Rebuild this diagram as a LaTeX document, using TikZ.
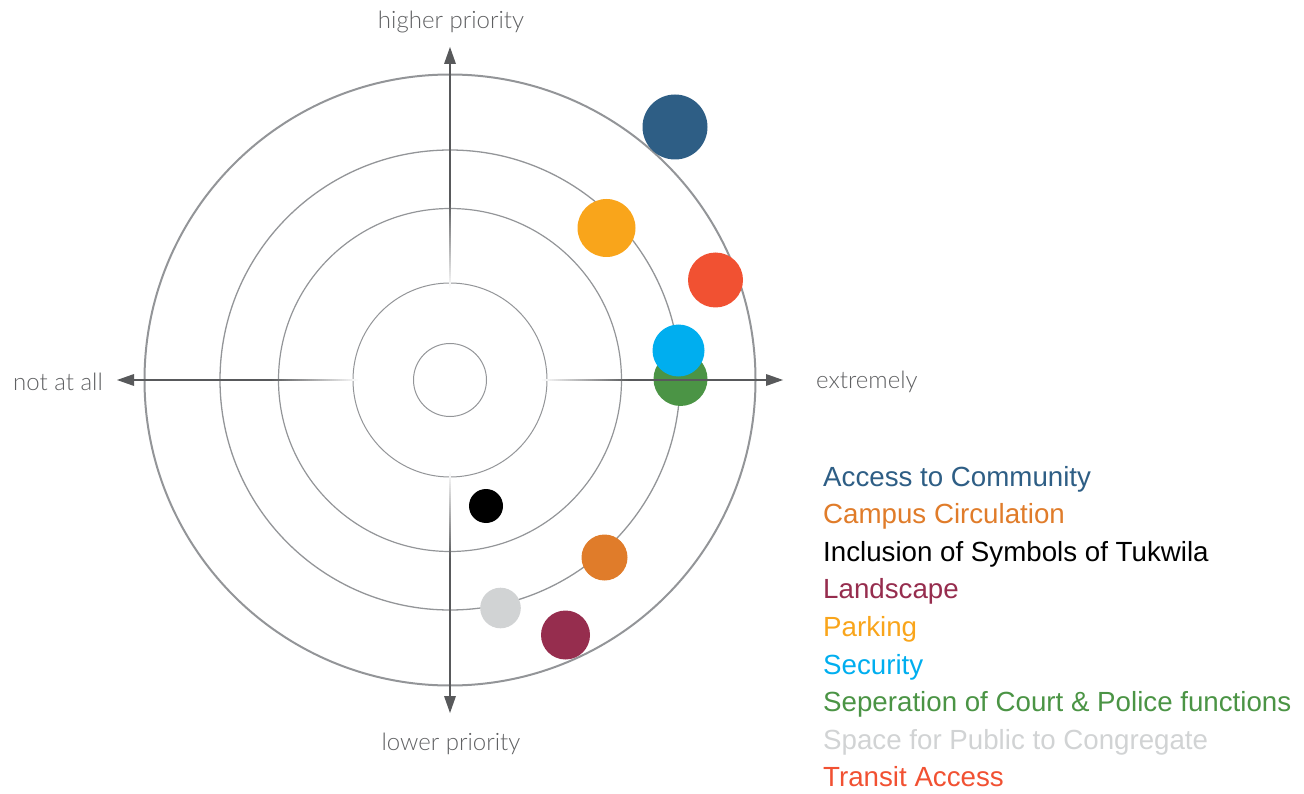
\documentclass[tikz,border=0pt]{standalone}
\usepackage{fontspec}
\newfontfamily\axisfont{Lato Light}
\newfontfamily\legfont{Liberation Sans}
\definecolor{ringgray}{HTML}{939598}
\definecolor{axisgray}{HTML}{58595B}
\definecolor{labelgray}{HTML}{5F6062}
\definecolor{cAccess}{HTML}{2E5E85}
\definecolor{cCampus}{HTML}{E07C2A}
\definecolor{cIncl}{HTML}{000000}
\definecolor{cLand}{HTML}{962D4E}
\definecolor{cPark}{HTML}{F9A51B}
\definecolor{cSec}{HTML}{00AEEF}
\definecolor{cSep}{HTML}{4B9445}
\definecolor{cSpace}{HTML}{D1D3D4}
\definecolor{cTransit}{HTML}{F15132}
\tikzset{
  ring/.style={draw=ringgray, line width=#1},
  dot/.style={fill=#1, draw=none},
  axislabel/.style={font=\axisfont\fontsize{24}{28}\selectfont, text=labelgray, inner sep=0pt},
  legitem/.style={font=\legfont\fontsize{27.7}{32}\selectfont, text=#1, anchor=base west, inner sep=0pt},
  arrowhead/.style={fill=axisgray, draw=none}
}
\begin{document}
\begin{tikzpicture}[x=1pt,y=-1pt]
\useasboundingbox (0,0) rectangle (1304,794);
\coordinate (c) at (450,380);
% rings
\draw[ring=1pt] (c) circle[radius=36.5pt];
\draw[ring=1pt] (c) circle[radius=97pt];
\draw[ring=1.2pt] (c) circle[radius=171.5pt];
\draw[ring=1.3pt] (c) circle[radius=230pt];
\draw[ring=2pt] (c) circle[radius=305.5pt];
% dots
\fill[dot=cAccess] (675,127) circle[radius=32.5pt];
\fill[dot=cPark] (606.5,228) circle[radius=29pt];
\fill[dot=cTransit] (715.5,280) circle[radius=27.5pt];
\fill[dot=cSep] (680.5,379) circle[radius=27pt];
\fill[dot=cSec] (678.5,350.5) circle[radius=26pt];
\fill[dot=cIncl] (486,506) circle[radius=17pt];
\fill[dot=cCampus] (604.5,557.5) circle[radius=23pt];
\fill[dot=cSpace] (500.5,608) circle[radius=20.3pt];
\fill[dot=cLand] (565.5,635) circle[radius=24.5pt];
% axes: faded parts (from r=90 to r=180)
\foreach \i in {0,...,44}{
  \pgfmathsetmacro{\pct}{100*\i/44}
  \pgfmathsetmacro{\ra}{90+2*\i}
  \pgfmathsetmacro{\rb}{\ra+2.3}
  \fill[axisgray!\pct!white] (449,380-\ra) rectangle (451,380-\rb);
  \fill[axisgray!\pct!white] (449,380+\ra) rectangle (451,380+\rb);
  \fill[axisgray!\pct!white] (450-\ra,379) rectangle (450-\rb,381);
  \fill[axisgray!\pct!white] (450+\ra,379) rectangle (450+\rb,381);
}
% axes: solid parts
\fill[axisgray] (449,64) rectangle (451,200.5);
\fill[axisgray] (449,559.5) rectangle (451,697);
\fill[axisgray] (133,379) rectangle (270.5,381);
\fill[axisgray] (629.5,379) rectangle (767,381);
% arrow heads
\coordinate (tipT) at (450,47);
\coordinate (tipB) at (450,713);
\coordinate (tipL) at (117,380);
\coordinate (tipR) at (783,380);
\fill[arrowhead] (tipT) -- (444,64) -- (456,64) -- cycle;
\fill[arrowhead] (tipB) -- (444,696) -- (456,696) -- cycle;
\fill[arrowhead] (tipL) -- (134,374) -- (134,386) -- cycle;
\fill[arrowhead] (tipR) -- (766,374) -- (766,386) -- cycle;
% axis labels
\node[axislabel, anchor=base] (hp) at (451,29) {higher priority};
\node[axislabel, anchor=base] (lp) at (451,750) {lower priority};
\node[axislabel, anchor=base east] (na) at (103,390) {not at all};
\node[axislabel, anchor=base west] (ex) at (816,388) {extremely};
% legend
\node[legitem=cAccess] (l1) at (823,486) {Access to Community};
\node[legitem=cCampus] (l2) at (823,523.6) {Campus Circulation};
\node[legitem=cIncl] (l3) at (823,561.2) {Inclusion of Symbols of Tukwila};
\node[legitem=cLand] (l4) at (823,598.8) {Landscape};
\node[legitem=cPark] (l5) at (823,636.4) {Parking};
\node[legitem=cSec] (l6) at (823,674) {Security};
\node[legitem=cSep] (l7) at (823,711.6) {Seperation of Court \& Police functions};
\node[legitem=cSpace] (l8) at (823,749.2) {Space for Public to Congregate};
\node[legitem=cTransit] (l9) at (823,786.8) {Transit Access};
\end{tikzpicture}
\end{document}
